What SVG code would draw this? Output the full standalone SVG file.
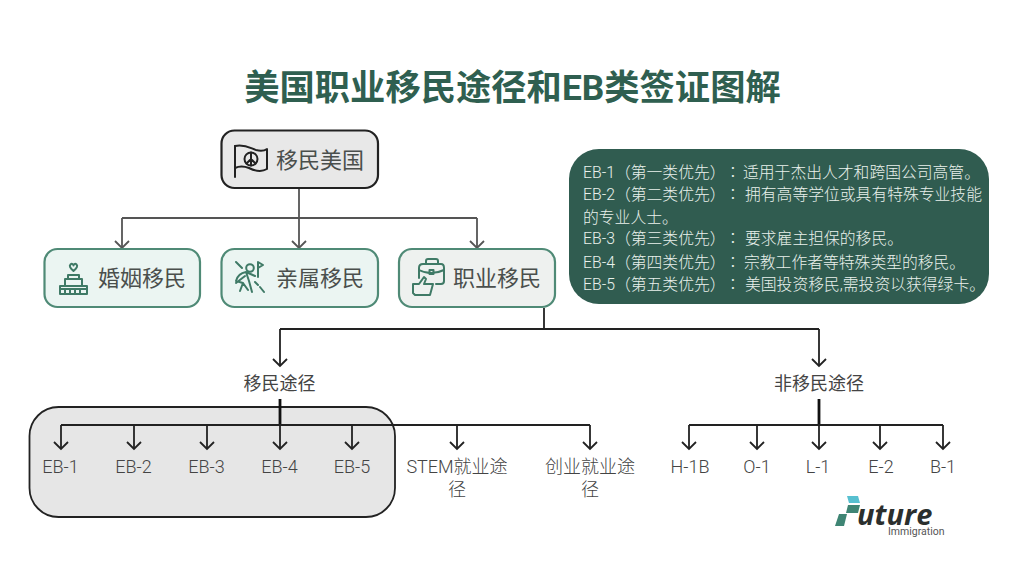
<svg xmlns="http://www.w3.org/2000/svg" width="1024" height="576" viewBox="0 0 1024 576">
<style>
text{font-family:"Roboto","Noto Sans CJK SC","Noto Sans",sans-serif;fill:#444;text-anchor:middle}
.title{font-size:35.300px;font-weight:700;fill:#2f5f50}
.node{font-size:22px;fill:#4a4f4c;text-anchor:start}
.mid{font-size:18px}
.leaf{font-size:18px;font-weight:300}
.info{font-size:15.800px;fill:#e9f1ec;text-anchor:start;font-weight:300}
.colon{font-family:"Noto Sans CJK TC",sans-serif}
.box{stroke:#4f8a76;stroke-width:2.200;fill:#ebf5f2}
.icon{fill:none;stroke:#3f7a66;stroke-width:2;stroke-linejoin:round;stroke-linecap:round}
.ln{fill:none;stroke:#222;stroke-width:1.800}
.ln2{fill:none;stroke:#555;stroke-width:1.800}
.stem{fill:none;stroke:#111;stroke-width:2.800}
.arr{marker-end:url(#a)}
.arr2{marker-end:url(#b)}
</style>
<defs>
<marker id="a" markerUnits="userSpaceOnUse" markerWidth="20" markerHeight="20" refX="10" refY="10" orient="auto" overflow="visible"><path d="M3,3 L10,10 L3,17" fill="none" stroke="#222" stroke-width="1.800"/></marker>
<marker id="b" markerUnits="userSpaceOnUse" markerWidth="20" markerHeight="20" refX="10" refY="10" orient="auto" overflow="visible"><path d="M3,3 L10,10 L3,17" fill="none" stroke="#555" stroke-width="1.800"/></marker>
</defs>
<rect width="1024" height="576" fill="#fff"/>
<text id="title" class="title" x="512.500" y="100">美国职业移民途径和EB类签证图解</text>

<g id="group-eb"><rect x="29.500" y="407" width="365.500" height="110" rx="29" fill="#e6e6e6" stroke="#222" stroke-width="1.800"/></g>

<g id="connectors">
<path class="ln2" d="M299 188V218M122 218H477"/>
<path class="ln2 arr2" d="M122 218V248"/>
<path class="ln2 arr2" d="M299 218V248"/>
<path class="ln2 arr2" d="M477 218V248"/>
<path class="ln" d="M544 308V329M280 329H819"/>
<path class="ln arr" d="M280 329V366"/>
<path class="ln arr" d="M819 329V366"/>
<path class="stem" d="M280 399V425"/>
<path class="ln" d="M61 425H590"/>
<path class="ln arr" d="M61 425V449"/>
<path class="ln arr" d="M134 425V449"/>
<path class="ln arr" d="M207 425V449"/>
<path class="ln arr" d="M280 425V449"/>
<path class="ln arr" d="M352 425V449"/>
<path class="ln arr" d="M457 425V449"/>
<path class="ln arr" d="M590 425V449"/>
<path class="stem" d="M819 399V425"/>
<path class="ln" d="M689 425H943"/>
<path class="ln arr" d="M689 425V449"/>
<path class="ln arr" d="M757 425V449"/>
<path class="ln arr" d="M819 425V449"/>
<path class="ln arr" d="M880 425V449"/>
<path class="ln arr" d="M943 425V449"/>
</g>

<g id="node-root">
<rect x="221.500" y="130.500" width="156.500" height="57.500" rx="13" fill="#e8e8e8" stroke="#222" stroke-width="2.200"/>
<g fill="none" stroke="#222" stroke-width="2" stroke-linejoin="round" stroke-linecap="round">
<path d="M235 177V146"/>
<path d="M235 146C245 144 250 148 256 150C260 151 264 151 267 149V169C262 172 255 171 249 168C244 166 239 166 235 168"/>
<circle cx="251" cy="159" r="6.500"/>
<path d="M251 152.500V165.500M251 159L246.500 163.500M251 159L255.500 163.500"/>
</g>
<text class="node" x="276" y="168">移民美国</text>
</g>

<g id="node-marriage">
<rect class="box" x="44.500" y="249" width="155.500" height="58" rx="13"/>
<g class="icon">
<path d="M73.500 271C70 268 69 266 70.500 264.500C72 263 73.500 264.500 73.500 265.500C73.500 264.500 75 263 76.500 264.500C78 266 77 268 73.500 271Z"/>
<path d="M68 279V275H79V279M65 285V279H82V285M60 294V286H87V294ZM60 289H87M65 289V294M70 289V294M75 289V294M80 289V294"/>
</g>
<text class="node" x="98" y="286">婚姻移民</text>
</g>

<g id="node-family">
<rect class="box" x="221.500" y="249" width="156.500" height="58" rx="13"/>
<g class="icon">
<circle cx="250" cy="268" r="3.800"/>
<path d="M258 277V262L263 265L258 268"/>
<path d="M246 272C240 273 237 277 236 281L243 283L240 291M246 272L249 281L252 292M246 272L255 276M243 283L248 290M236 262L242 268M236 283L245 276"/>
<path d="M255 282L258 285M260 287L264 292"/>
</g>
<text class="node" x="276" y="286">亲属移民</text>
</g>

<g id="node-work">
<rect x="399" y="249" width="156" height="58" rx="13" fill="#eef1ef" stroke="#4f8a76" stroke-width="2.200"/>
<g class="icon">
<path d="M419 278V268C419 265 421 264 423 264H441C443 264 444 265 444 268V281C444 283 443 284 441 284H436"/>
<path d="M426 264V261C426 260 427 259 428 259H436C437 259 438 260 438 261V264"/>
<path d="M419 270C426 274 436 274 444 270"/>
<rect x="429.500" y="270" width="4" height="4"/>
<path d="M413 293V284H419L424 277L426 279L424 284H433L430 295H415Z"/>
</g>
<text class="node" x="453" y="286">职业移民</text>
</g>

<g id="info-panel">
<rect x="569" y="149" width="420" height="155" rx="30" fill="#305c50"/>
<text class="info" y="178"><tspan x="583">EB-1（第一类优先）</tspan><tspan class="colon" x="725">：</tspan><tspan x="743">适用于杰出人才和跨国公司高管。</tspan></text>
<text class="info" y="200"><tspan x="583">EB-2（第二类优先）</tspan><tspan class="colon" x="725">：</tspan><tspan x="745">拥有高等学位或具有特殊专业技能</tspan></text>
<text class="info" x="583" y="223">的专业人士。</text>
<text class="info" y="244"><tspan x="583">EB-3（第三类优先）</tspan><tspan class="colon" x="725">：</tspan><tspan x="745">要求雇主担保的移民。</tspan></text>
<text class="info" y="268"><tspan x="583">EB-4（第四类优先）</tspan><tspan class="colon" x="725">：</tspan><tspan x="744">宗教工作者等特殊类型的移民。</tspan></text>
<text class="info" y="290"><tspan x="583">EB-5（第五类优先）</tspan><tspan class="colon" x="725">：</tspan><tspan x="745">美国投资移民,需投资以获得绿卡。</tspan></text>
</g>

<g id="node-immigrant"><text class="mid" x="279.500" y="390">移民途径</text></g>
<g id="node-nonimmigrant"><text class="mid" x="819" y="390">非移民途径</text></g>

<g id="node-eb1"><text class="leaf" x="60.500" y="473">EB-1</text></g>
<g id="node-eb2"><text class="leaf" x="133.500" y="473">EB-2</text></g>
<g id="node-eb3"><text class="leaf" x="206.500" y="473">EB-3</text></g>
<g id="node-eb4"><text class="leaf" x="279.500" y="473">EB-4</text></g>
<g id="node-eb5"><text class="leaf" x="352" y="473">EB-5</text></g>
<g id="node-stem"><text class="leaf" x="457" y="473">STEM就业途</text><text class="leaf" x="457" y="496">径</text></g>
<g id="node-startup"><text class="leaf" x="590" y="473">创业就业途</text><text class="leaf" x="590" y="496">径</text></g>
<g id="node-h1b"><text class="leaf" x="690" y="473">H-1B</text></g>
<g id="node-o1"><text class="leaf" x="757" y="473">O-1</text></g>
<g id="node-l1"><text class="leaf" x="818" y="473">L-1</text></g>
<g id="node-e2"><text class="leaf" x="881" y="473">E-2</text></g>
<g id="node-b1"><text class="leaf" x="943" y="473">B-1</text></g>

<g id="logo">
<path d="M847 496H858L860 503H849Z" fill="#57c0d0"/>
<path d="M848 505H860L858 513H846Z" fill="#3f8574"/>
<path d="M839 514H847L844 526H835Z" fill="#3f8574"/>
<text x="857" y="525" style="font-family:'Open Sans',sans-serif;font-size:29px;font-weight:700;font-style:italic;fill:#2b2f2e;text-anchor:start">uture</text>
<text x="888" y="535" style="font-size:10.500px;fill:#555;text-anchor:start">Immigration</text>
</g>
</svg>
